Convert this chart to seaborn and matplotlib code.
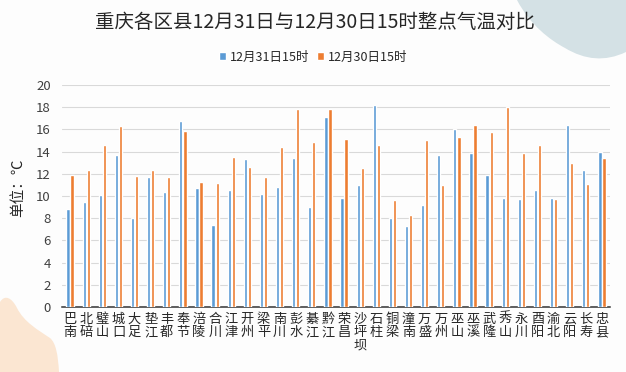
import matplotlib
matplotlib.use("Agg")
import matplotlib.pyplot as plt
import seaborn as sns
import pandas as pd
from matplotlib.path import Path
from matplotlib.patches import PathPatch

categories = ["巴南", "北碚", "璧山", "城口", "大足", "垫江", "丰都", "奉节", "涪陵", "合川",
              "江津", "开州", "梁平", "南川", "彭水", "綦江", "黔江", "荣昌", "沙坪坝", "石柱",
              "铜梁", "潼南", "万盛", "万州", "巫山", "巫溪", "武隆", "秀山", "永川", "酉阳",
              "渝北", "云阳", "长寿", "忠县"]
dec31 = [8.8, 9.5, 10.1, 13.7, 8.0, 11.7, 10.4, 16.8, 10.7, 7.4,
         10.5, 13.3, 10.2, 10.8, 13.4, 9.0, 17.1, 9.8, 11.0, 18.2,
         8.0, 7.3, 9.2, 13.7, 16.0, 13.9, 11.9, 9.8, 9.7, 10.5,
         9.8, 16.4, 12.3, 14.0]
dec30 = [11.85, 12.3, 14.6, 16.3, 11.8, 12.3, 11.7, 15.9, 11.3, 11.2,
         13.5, 12.6, 11.7, 14.4, 17.8, 14.9, 17.8, 15.1, 12.5, 14.6,
         9.6, 8.3, 15.0, 11.0, 15.3, 16.4, 15.8, 18.05, 13.9, 14.6,
         9.7, 13.0, 11.1, 13.4]
series_names = ["12月31日15时", "12月30日15时"]
yticks = list(range(0, 21, 2))
title = "重庆各区县12月31日与12月30日15时整点气温对比"
ylabel = "单位：℃"

sns.set_theme(style="white")
plt.rcParams['font.family'] = ['Noto Sans CJK SC', 'DejaVu Sans']

W, H = 626, 372
fig = plt.figure(figsize=(W / 100, H / 100), dpi=100, facecolor="#fdfdfd")

def px_patch(verts_px, codes, color):
    verts = [(x / W, 1 - y / H) for x, y in verts_px]
    p = PathPatch(Path(verts, codes), transform=fig.transFigure, facecolor=color,
                  edgecolor="none", zorder=0)
    fig.patches.append(p)

C = Path.CURVE4
px_patch([(517, 0), (530, 25), (550, 40), (565, 48), (585, 60), (605, 62), (626, 52),
          (626, 0), (517, 0)],
         [Path.MOVETO, C, C, C, C, C, C, Path.LINETO, Path.CLOSEPOLY], "#d4e1e5")
px_patch([(0, 302), (5, 294), (12, 298), (17, 308), (24, 322), (38, 330), (50, 338),
          (56, 343), (58, 355), (59, 372), (0, 372), (0, 302)],
         [Path.MOVETO, C, C, C, C, C, C, C, C, C, Path.LINETO, Path.CLOSEPOLY], "#fbe6d2")

ax = fig.add_axes([62 / W, 1 - 307 / H, 548 / W, 222 / H])
ax.set_facecolor("none")

df = pd.DataFrame({
    "区县": categories * 2,
    "气温": dec31 + dec30,
    "时间": [series_names[0]] * len(categories) + [series_names[1]] * len(categories),
})
sns.barplot(data=df, x="区县", y="气温", hue="时间", hue_order=series_names,
            palette=["#5b9bd5", "#ed7d31"], width=0.5, gap=0.2, ax=ax,
            saturation=1, legend=True, zorder=3)

ax.set_ylim(0, 20)
ax.set_xlim(-0.5, len(categories) - 0.5)
ax.set_yticks(yticks)
ax.set_yticklabels([str(t) for t in yticks], fontsize=9.5, color="#404040")
ax.set_xticks(range(len(categories)))
ax.set_xticklabels(["\n".join(list(c)) for c in categories], fontsize=9.5,
                   color="#262626", linespacing=1.05, va="top")
ax.tick_params(axis="both", length=0)
ax.tick_params(axis="x", pad=4)
ax.tick_params(axis="y", pad=8)
ax.yaxis.grid(True, color="#d9d9d9", linewidth=0.8, zorder=0)
ax.set_axisbelow(True)
for s in ["left", "right", "top"]:
    ax.spines[s].set_visible(False)
ax.spines["bottom"].set_color("#333333")
ax.spines["bottom"].set_linewidth(1.1)
ax.set_xlabel("")
ax.set_ylabel("")

handles, labels = ax.get_legend_handles_labels()
ax.get_legend().remove()
fig.legend(handles, labels, loc="center", bbox_to_anchor=(0.5, 1 - 57 / H), ncol=2,
           frameon=False, fontsize=9, handlelength=0.6, handleheight=0.6,
           handletextpad=0.3, columnspacing=0.6, labelcolor="#262626")

fig.text(0.503, 1 - 22 / H, title, ha="center", va="center", fontsize=14, color="#262626")
fig.text(18 / W, 1 - 188 / H, ylabel, ha="center", va="center", rotation=90,
         fontsize=10.5, color="#262626")

fig.savefig("out.png", dpi=100, facecolor=fig.get_facecolor())
